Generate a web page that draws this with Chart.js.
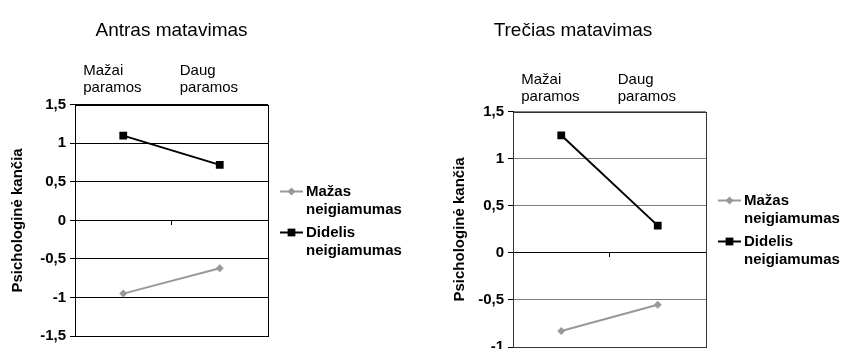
<!DOCTYPE html>
<html>
<head>
<meta charset="utf-8">
<script src="https://cdn.jsdelivr.net/npm/chart.js@4.4.0/dist/chart.umd.min.js"></script>
<style>
  html, body { margin: 0; padding: 0; background: #fff; overflow: hidden; width: 845px; height: 349px; }
  .box { position: absolute; top: 0; }
  #box1 { left: 0; width: 440px; height: 349px; }
  #box2 { left: 440px; width: 405px; height: 360px; }
</style>
</head>
<body>
<div id="box1" class="box"><canvas id="chart1"></canvas></div>
<div id="box2" class="box"><canvas id="chart2"></canvas></div>
<script>
// Support level categories, series names and values per measurement
const categories = [['Mažai', 'paramos'], ['Daug', 'paramos']];
const seriesMazas = ['Mažas', 'neigiamumas'];
const seriesDidelis = ['Didelis', 'neigiamumas'];
const yAxisTitle = 'Psichologinė kančia';

const antrasMazas = [-0.95, -0.62];
const antrasDidelis = [1.1, 0.72];
const treciasMazas = [-0.83, -0.55];
const treciasDidelis = [1.25, 0.29];

const FONT = 'Arial, "Liberation Sans", sans-serif';

// draws plot frame + a two-line legend at the right of the plot
const frameLegend = {
    id: 'frameLegend',
    afterDraw(chart, args, opts) {
        const { ctx, chartArea: a } = chart;
        ctx.save();
        ctx.strokeStyle = opts.frameColor;
        ctx.lineWidth = 1;
        ctx.strokeRect(Math.round(a.left) + 0.5, Math.round(a.top) + 0.5,
            Math.round(a.right - a.left), Math.round(a.bottom - a.top));

        const mid = (a.top + a.bottom) / 2;
        ctx.font = 'bold 15px ' + FONT;
        ctx.textBaseline = 'middle';
        ctx.textAlign = 'left';
        chart.data.datasets.forEach((ds, i) => {
            const y = Math.round(mid - 29 + i * 41) + 0.5;
            const x0 = a.right + 12, x1 = a.right + 35, xm = (x0 + x1) / 2;
            ctx.strokeStyle = ds.borderColor;
            ctx.lineWidth = ds.borderWidth;
            ctx.beginPath(); ctx.moveTo(x0, y); ctx.lineTo(x1, y); ctx.stroke();
            ctx.fillStyle = ds.pointBackgroundColor;
            const r = ds.pointRadius;
            ctx.beginPath();
            if (ds.pointStyle === 'rect') {
                const s = r * Math.SQRT1_2;
                ctx.rect(xm - s, y - s, 2 * s, 2 * s);
            } else {
                ctx.moveTo(xm - r, y); ctx.lineTo(xm, y - r); ctx.lineTo(xm + r, y); ctx.lineTo(xm, y + r); ctx.closePath();
            }
            ctx.fill();
            ctx.fillStyle = '#000';
            ds.label.forEach((line, k) => ctx.fillText(line, a.right + 38, y + k * 18.5));
        });
        ctx.restore();
    }
};

function makeChart(id, cfg) {
    const ctx = document.getElementById(id).getContext('2d');
    return new Chart(ctx, {
        type: 'line',
        data: {
            labels: categories,
            datasets: [
                {
                    label: seriesMazas, data: cfg.mazas,
                    borderColor: '#999999', borderWidth: 2,
                    pointStyle: 'rectRot', pointRadius: 4, pointBorderWidth: 0,
                    pointBackgroundColor: '#999999', pointBorderColor: '#999999',
                    xAxisID: 'x', yAxisID: 'y'
                },
                {
                    label: seriesDidelis, data: cfg.didelis,
                    borderColor: '#000000', borderWidth: 2,
                    pointStyle: 'rect', pointRadius: 5.5, pointBorderWidth: 0,
                    pointBackgroundColor: '#000000', pointBorderColor: '#000000',
                    xAxisID: 'x', yAxisID: 'y'
                }
            ]
        },
        options: {
            responsive: true,
            maintainAspectRatio: false,
            animation: false,
            layout: { padding: { top: 0, left: 0, right: cfg.padRight, bottom: cfg.padBottom } },
            plugins: {
                legend: { display: false },
                tooltip: { enabled: false },
                title: {
                    display: true, text: cfg.title, fullSize: cfg.titleFull,
                    color: '#000', font: { family: FONT, size: 19, weight: 'normal', lineHeight: 1.2 },
                    padding: { top: 19, bottom: 0 }
                },
                frameLegend: { frameColor: cfg.frameColor }
            },
            scales: {
                x: {
                    type: 'category', position: { y: 0 }, offset: true,
                    ticks: { display: false },
                    grid: { drawOnChartArea: false, drawTicks: true, tickLength: 4, color: '#000', offset: true },
                    border: { display: true, color: '#000', width: 1 }
                },
                x2: {
                    type: 'category', position: 'top', offset: true, labels: categories,
                    grid: { display: false, drawTicks: false },
                    border: { display: false },
                    ticks: { align: 'start', labelOffset: -40, padding: cfg.catPad, color: '#000',
                        font: { family: FONT, size: 15, lineHeight: 1.15 } },
                    afterFit: s => { s.height = cfg.topHeight; }
                },
                y: {
                    min: cfg.yMin, max: 1.5,
                    ticks: { stepSize: 0.5, padding: 4, color: '#000',
                        font: { family: FONT, size: 15, weight: 'bold' },
                        callback: v => String(v).replace('.', ',') },
                    grid: { color: cfg.gridColor, tickColor: '#000', tickLength: 5 },
                    border: { display: true, color: '#000', width: 1 },
                    title: { display: true, text: yAxisTitle, color: '#000',
                        font: { family: FONT, size: 15, weight: 'bold', lineHeight: 1.2 },
                        padding: { top: cfg.yTitlePad, bottom: 0 } },
                    afterFit: s => { s.width = cfg.yWidth; }
                }
            }
        },
        plugins: [frameLegend]
    });
}

makeChart('chart1', {
    title: 'Antras matavimas', mazas: antrasMazas, didelis: antrasDidelis,
    yMin: -1.5, gridColor: '#000', frameColor: '#000', titleFull: false,
    yWidth: 75, padRight: 172, padBottom: 10, topHeight: 63, yTitlePad: 9, catPad: 8
});

makeChart('chart2', {
    title: 'Trečias matavimas', mazas: treciasMazas, didelis: treciasDidelis,
    yMin: -1, gridColor: '#808080', frameColor: '#333', titleFull: true,
    yWidth: 73, padRight: 139, padBottom: 13, topHeight: 70, yTitlePad: 11, catPad: 6
});
</script>
</body>
</html>
